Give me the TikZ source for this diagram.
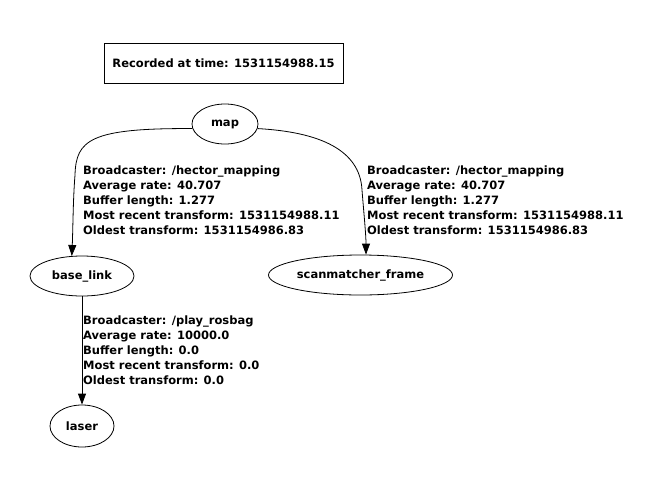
\documentclass[tikz,border=0pt]{standalone}
\usepackage{fontspec}
\setmainfont{DejaVu Sans}
\usetikzlibrary{shapes.geometric,arrows.meta}
\begin{document}
\begin{tikzpicture}[x=1pt,y=-1pt,
  every node/.style={font=\fontsize{11.5}{15}\selectfont\bfseries},
  frame/.style={ellipse,draw,line width=0.8pt,inner sep=0pt},
  lbl/.style={anchor=north west,inner sep=0pt,align=left},
  edge/.style={draw,line width=0.8pt,-{Triangle[length=11pt,width=8pt]}}]
\useasboundingbox (0,0) rectangle (664,493);
\node[draw,line width=0.8pt,minimum width=239pt,minimum height=40pt,inner sep=0pt] (rec) at (223.5,63) {Recorded at time: 1531154988.15};
\node[frame,minimum width=66pt,minimum height=40pt] (map) at (225,124) {map};
\node[frame,minimum width=104pt,minimum height=40pt] (base) at (82,276) {base\_link};
\node[frame,minimum width=184pt,minimum height=40pt] (scan) at (360.5,275) {scanmatcher\_frame};
\node[frame,minimum width=64pt,minimum height=42pt] (laser) at (82,426) {laser};
\coordinate (l1) at (75,175);
\coordinate (r1) at (362,190);
\path[edge] (map.188) .. controls (90,128) and (76,140) .. (l1) .. controls (73,200) and (73,228) .. (base.117);
\path[edge] (map.352) .. controls (320,132) and (360,150) .. (r1) .. controls (364,215) and (366,235) .. (scan.north -| 366,0);
\path[edge] (base.south) -- (laser.north);
\node[lbl] (lab1) at (83,166) {Broadcaster: /hector\_mapping\\Average rate: 40.707\\Buffer length: 1.277\\Most recent transform: 1531154988.11\\Oldest transform: 1531154986.83};
\node[lbl] (lab2) at (367,166) {Broadcaster: /hector\_mapping\\Average rate: 40.707\\Buffer length: 1.277\\Most recent transform: 1531154988.11\\Oldest transform: 1531154986.83};
\node[lbl] (lab3) at (83,316) {Broadcaster: /play\_rosbag\\Average rate: 10000.0\\Buffer length: 0.0\\Most recent transform: 0.0\\Oldest transform: 0.0};
\end{tikzpicture}
\end{document}
